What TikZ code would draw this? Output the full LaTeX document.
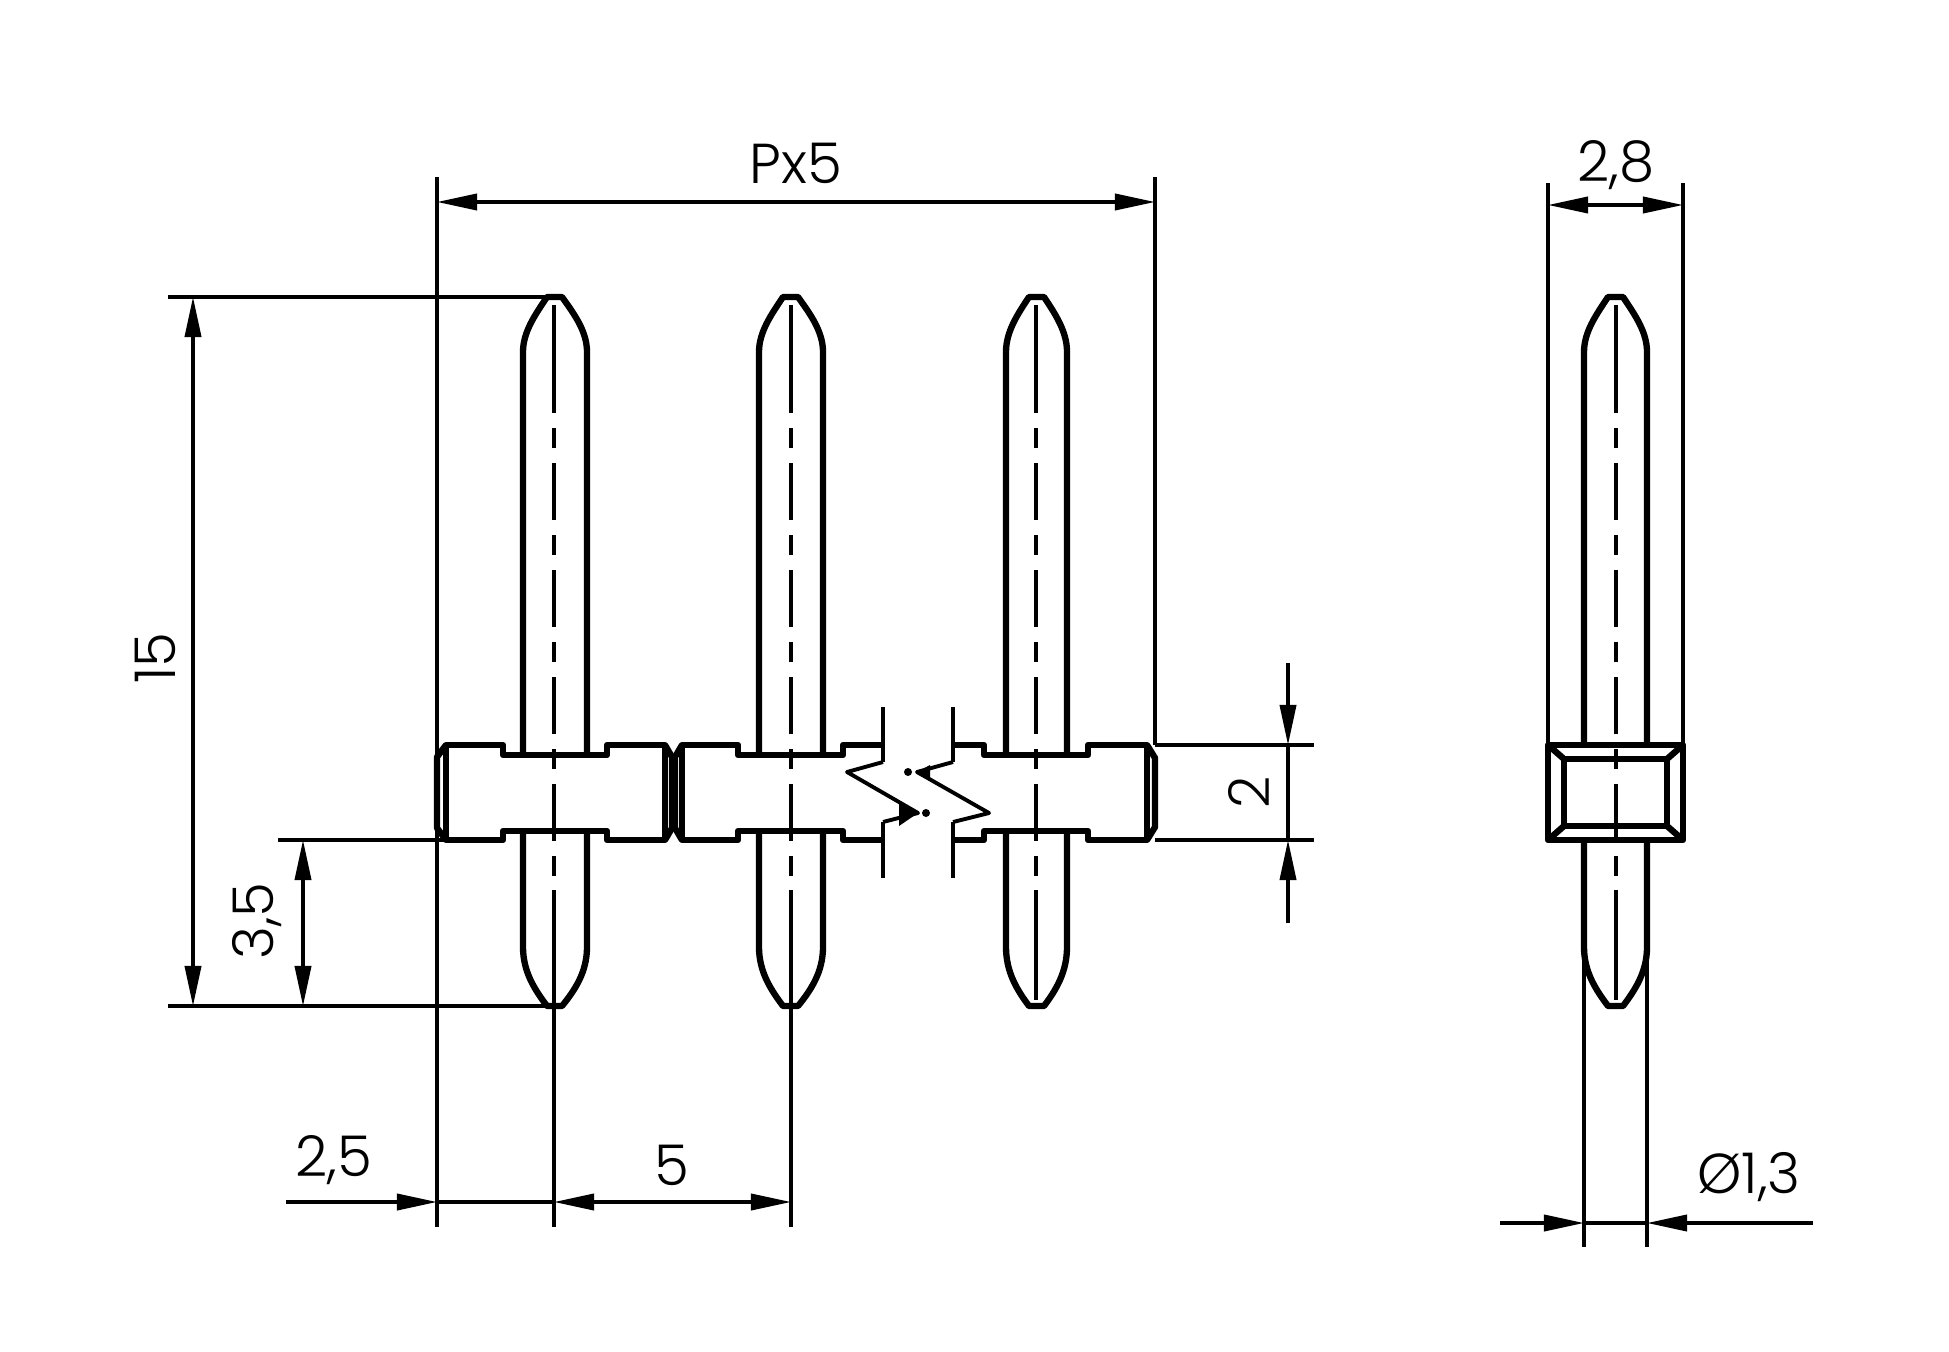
\documentclass[tikz,border=0pt]{standalone}
\usepackage{fontspec}
\setmainfont{Poppins}[UprightFont=* Light]
\usetikzlibrary{arrows.meta}

\begin{document}
\begin{tikzpicture}[x=0.01cm, y=-0.01cm,
    outline/.style={line width=1.8pt, line join=round},
    thinline/.style={line width=0.95pt},
    centerline/.style={line width=0.95pt, dash pattern=on 57*0.2845pt off 15*0.2845pt on 20*0.2845pt off 15*0.2845pt},
    dimline/.style={line width=0.95pt, >={Triangle[length=11.4pt, width=4.6pt]}},
    dimtext/.style={font=\fontsize{16}{18}\selectfont}]
    \useasboundingbox (0,0) rectangle (1949,1352);

    % Draw pins
    \draw[outline] (523,755) -- (523,352) .. controls (523,332) and (535,315) .. (547,297) -- (562,297) .. controls (575,315) and (587,332) .. (587,352) -- (587,755);
    \draw[outline] (523,831) -- (523,947) .. controls (523,972) and (535,990) .. (547,1006) -- (562,1006) .. controls (575,990) and (587,972) .. (587,947) -- (587,831);

    \draw[outline] (759,755) -- (759,352) .. controls (759,332) and (771,315) .. (783,297) -- (798,297) .. controls (811,315) and (823,332) .. (823,352) -- (823,755);
    \draw[outline] (759,831) -- (759,947) .. controls (759,972) and (771,990) .. (783,1006) -- (798,1006) .. controls (811,990) and (823,972) .. (823,947) -- (823,831);

    \draw[outline] (1006,755) -- (1006,352) .. controls (1006,332) and (1017,315) .. (1029,297) -- (1044,297) .. controls (1056,315) and (1067,332) .. (1067,352) -- (1067,755);
    \draw[outline] (1006,831) -- (1006,947) .. controls (1006,972) and (1017,990) .. (1029,1006) -- (1044,1006) .. controls (1056,990) and (1067,972) .. (1067,947) -- (1067,831);

    % Draw strip
    \draw[outline] (446,745) -- (503,745) -- (503,755) -- (607,755) -- (607,745) -- (665,745) -- (665,840) -- (607,840) -- (607,831) -- (503,831) -- (503,840) -- (446,840) -- cycle;
    \draw[outline] (446,745) -- (437,757) -- (437,828) -- (446,840);
    \draw[outline] (665,745) -- (672,757) -- (672,828) -- (665,840);
    \draw[outline] (682,745) -- (675,757) -- (675,828) -- (682,840);
    \draw[outline] (883,745) -- (843,745) -- (843,755) -- (738,755) -- (738,745) -- (682,745) -- (682,840) -- (738,840) -- (738,831) -- (843,831) -- (843,840) -- (883,840);
    \draw[outline] (953,745) -- (984,745) -- (984,755) -- (1088,755) -- (1088,745) -- (1147,745) -- (1147,840) -- (1088,840) -- (1088,831) -- (984,831) -- (984,840) -- (953,840);
    \draw[outline] (1147,745) -- (1155,758) -- (1155,827) -- (1147,840);

    % Draw break
    \draw[thinline] (883,707) -- (883,762);
    \draw[thinline] (883,822) -- (883,878);
    \draw[thinline] (953,707) -- (953,762);
    \draw[thinline] (953,822) -- (953,878);
    \draw[line width=1.1pt, line join=round] (883,762) -- (847,772) -- (918,813) -- (883,822);
    \draw[line width=1.1pt, line join=round] (953,762) -- (917,772) -- (989,813) -- (953,822);
    \fill (899,801) -- (918,813) -- (899,826) -- cycle;
    \fill (917,772) -- (930,765) -- (930,781) -- cycle;
    \fill (908,772) circle (4);
    \fill (926,813) circle (4);

    % Draw side view
    \draw[outline] (1584,745) -- (1584,352) .. controls (1584,332) and (1596,315) .. (1608,297) -- (1623,297) .. controls (1635,315) and (1647,332) .. (1647,352) -- (1647,745);
    \draw[outline] (1584,840) -- (1584,947) .. controls (1584,972) and (1596,990) .. (1608,1006) -- (1623,1006) .. controls (1635,990) and (1647,972) .. (1647,947) -- (1647,840);
    \draw[outline] (1548,745) rectangle (1683,840);
    \draw[outline] (1564,759) rectangle (1667,826);
    \draw[outline] (1548,745) -- (1564,759);
    \draw[outline] (1683,745) -- (1667,759);
    \draw[outline] (1548,840) -- (1564,826);
    \draw[outline] (1683,840) -- (1667,826);

    % Draw center lines
    \draw[centerline] (554,356) -- (554,890);
    \draw[thinline] (554,305) -- (554,356);
    \draw[thinline] (554,890) -- (554,1227);
    \draw[centerline] (791,356) -- (791,890);
    \draw[thinline] (791,305) -- (791,356);
    \draw[thinline] (791,890) -- (791,1227);
    \draw[centerline] (1036,356) -- (1036,890);
    \draw[thinline] (1036,305) -- (1036,356);
    \draw[thinline] (1036,890) -- (1036,1000);
    \draw[centerline] (1616,356) -- (1616,890);
    \draw[thinline] (1616,305) -- (1616,356);
    \draw[thinline] (1616,890) -- (1616,1000);

    % Draw extension lines
    \draw[thinline] (437,177) -- (437,1227);
    \draw[thinline] (1155,177) -- (1155,745);
    \draw[thinline] (168,297) -- (548,297);
    \draw[thinline] (168,1006) -- (548,1006);
    \draw[thinline] (278,840) -- (446,840);
    \draw[thinline] (1155,745) -- (1314,745);
    \draw[thinline] (1155,840) -- (1314,840);
    \draw[thinline] (1548,183) -- (1548,745);
    \draw[thinline] (1683,183) -- (1683,745);
    \draw[thinline] (1584,950) -- (1584,1247);
    \draw[thinline] (1647,950) -- (1647,1247);

    % Draw dimensions
    \draw[dimline, <->] (437,202) -- (1155,202);
    \draw[dimline, <->] (193,297) -- (193,1006);
    \draw[dimline, <->] (303,840) -- (303,1006);
    \draw[dimline, ->] (286,1202) -- (437,1202);
    \draw[dimline] (437,1202) -- (554,1202);
    \draw[dimline, <->] (554,1202) -- (791,1202);
    \draw[dimline, ->] (1288,663) -- (1288,745);
    \draw[dimline] (1288,745) -- (1288,840);
    \draw[dimline, ->] (1288,923) -- (1288,840);
    \draw[dimline, <->] (1548,205) -- (1683,205);
    \draw[dimline, ->] (1500,1223) -- (1584,1223);
    \draw[dimline] (1584,1223) -- (1647,1223);
    \draw[dimline, ->] (1813,1223) -- (1647,1223);

    % Dimension labels
    \node[dimtext] (pitch) at (796,163) {Px5};
    \node[dimtext, rotate=90] (height) at (155,658) {15};
    \node[dimtext, rotate=90] (lower) at (257,921) {3,5};
    \node[dimtext] (offset) at (334,1160) {2,5};
    \node[dimtext] (spacing) at (672,1165) {5};
    \node[dimtext, rotate=90] (thickness) at (1249,792) {2};
    \node[dimtext] (width) at (1616,165) {2,8};
    \node[dimtext] (pindia) at (1749,1177) {Ø1,3};
\end{tikzpicture}
\end{document}
